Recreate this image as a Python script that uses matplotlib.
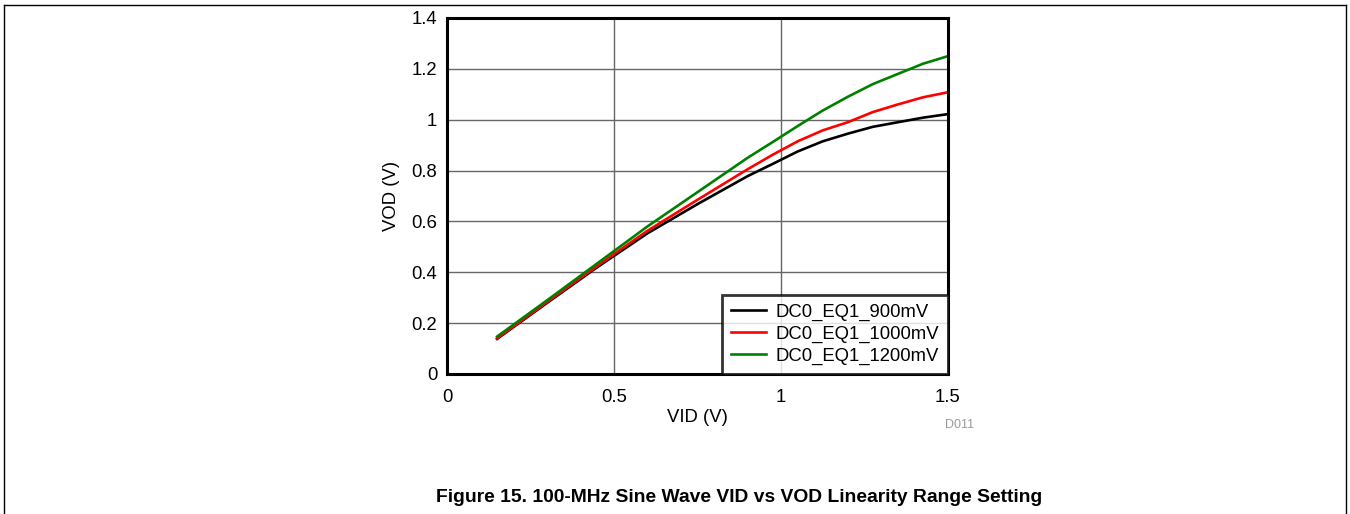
import matplotlib
matplotlib.use("Agg")
import matplotlib.pyplot as plt
from matplotlib.lines import Line2D

plt.rcParams['font.family'] = ['Liberation Sans', 'DejaVu Sans']

# VID (V) sample points
vid = [0.15, 0.3, 0.45, 0.6, 0.75, 0.9, 0.975, 1.05, 1.125, 1.2, 1.275, 1.35, 1.425, 1.5]

# VOD (V) for each setting
vod_900 = [0.138, 0.28, 0.42, 0.553, 0.668, 0.778, 0.826, 0.875, 0.915, 0.945, 0.972, 0.99, 1.008, 1.022]
vod_1000 = [0.14, 0.283, 0.425, 0.563, 0.685, 0.805, 0.862, 0.915, 0.958, 0.99, 1.03, 1.06, 1.088, 1.108]
vod_1200 = [0.147, 0.29, 0.435, 0.58, 0.715, 0.85, 0.912, 0.975, 1.036, 1.09, 1.14, 1.18, 1.22, 1.25]

labels = ["DC0_EQ1_900mV", "DC0_EQ1_1000mV", "DC0_EQ1_1200mV"]
colors = ["black", "red", "green"]

x_ticks = [0, 0.5, 1, 1.5]
x_tick_labels = ["0", "0.5", "1", "1.5"]
y_ticks = [0, 0.2, 0.4, 0.6, 0.8, 1.0, 1.2, 1.4]
y_tick_labels = ["0", "0.2", "0.4", "0.6", "0.8", "1", "1.2", "1.4"]

fs = 13.3

fig = plt.figure(figsize=(13.5, 5.14), dpi=100)
ax = fig.add_axes([0.3311, 0.2724, 0.3711, 0.6926])

for vals, lab, col in zip([vod_900, vod_1000, vod_1200], labels, colors):
    ax.plot(vid, vals, color=col, linewidth=1.9, label=lab)

ax.set_xlim(0, 1.5)
ax.set_ylim(0, 1.4)
ax.set_xticks(x_ticks)
ax.set_xticklabels(x_tick_labels)
ax.set_yticks(y_ticks)
ax.set_yticklabels(y_tick_labels)
ax.tick_params(axis='both', length=0, labelsize=fs)
ax.tick_params(axis='x', pad=10.5)
ax.tick_params(axis='y', pad=7)
ax.grid(True, color='#666666', linewidth=1.0)
ax.set_axisbelow(True)
for sp in ax.spines.values():
    sp.set_linewidth(2.2)
    sp.set_color('black')

ax.set_xlabel("VID (V)", fontsize=fs, labelpad=2.5)
ax.set_ylabel("VOD (V)", fontsize=fs, labelpad=8)

leg = ax.legend(loc='lower right', fontsize=fs, frameon=True, fancybox=False,
                borderaxespad=0, handlelength=1.9, handletextpad=0.5,
                borderpad=0.5, labelspacing=0.25)
leg.get_frame().set_edgecolor('black')
leg.get_frame().set_linewidth(2.0)

fig.text(945 / 1350, 1 - 425 / 514, "D011", fontsize=9, color='#999999', ha='left', va='center')
fig.text(739.5 / 1350, 1 - 497 / 514, "Figure 15. 100-MHz Sine Wave VID vs VOD Linearity Range Setting",
         fontsize=13.9, fontweight='bold', ha='center', va='center')

# page frame around the figure
frame_y = 1 - 5 / 514
fig.add_artist(Line2D([4 / 1350, 1346 / 1350], [frame_y, frame_y], color='black', linewidth=1.0))
fig.add_artist(Line2D([4 / 1350, 4 / 1350], [0, frame_y], color='black', linewidth=1.0))
fig.add_artist(Line2D([1346 / 1350, 1346 / 1350], [0, frame_y], color='black', linewidth=1.0))

fig.savefig("out.png", dpi=100)
